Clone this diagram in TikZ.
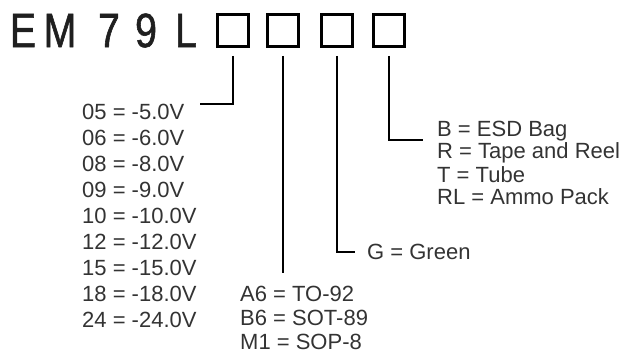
\documentclass[tikz,border=0pt]{standalone}
\usepackage{fontspec}
\setmainfont{Liberation Sans}
\newfontfamily\titlefont[FakeBold=1.4]{Liberation Sans}
\usetikzlibrary{positioning}
\definecolor{inkgray}{HTML}{333333}
\newcommand{\partchar}[1]{\scalebox{0.82}[1]{#1}}
\tikzset{
  partletter/.style={font=\titlefont\fontsize{48}{52}\selectfont, text=black!88, inner sep=0pt},
  partbox/.style={draw, line width=2.6pt, minimum width=31pt, minimum height=32pt, inner sep=0pt},
  lead/.style={line width=2.4pt, shorten <=8pt},
  opt/.style={font=\fontsize{22}{24}\selectfont, text=inkgray, inner sep=0pt, anchor=west},
}
\begin{document}
\begin{tikzpicture}[x=1pt,y=-1pt]
    \useasboundingbox (0,0) rectangle (638,362);
    % part number
    \node[partletter] (tE) at (23,30.5) {\partchar{E}};
    \node[partletter] (tM) at (60,30.5) {\partchar{M}};
    \node[partletter] (t7) at (109,30.5) {\partchar{7}};
    \node[partletter] (t9) at (146,30.5) {\partchar{9}};
    \node[partletter] (tL) at (186,30.5) {\partchar{L}};
    \node[partbox] (b1) at (233,30.5) {};
    \node[partbox] (b2) at (283,30.5) {};
    \node[partbox] (b3) at (337,30.5) {};
    \node[partbox] (b4) at (389,30.5) {};
    % voltage codes
    \foreach \code/\volt [count=\i from 0] in {05/-5.0,06/-6.0,08/-8.0,09/-9.0,10/-10.0,12/-12.0,15/-15.0,18/-18.0,24/-24.0}
      \node[opt] (v\code) at (82,112+26*\i) {\code\ = \volt V};
    % packages
    \node[opt] (pA6) at (240,294) {A6 = TO-92};
    \node[opt] (pB6) at (240,318) {B6 = SOT-89};
    \node[opt] (pM1) at (240,342) {M1 = SOP-8};
    % green
    \node[opt] (gG) at (367,252) {G = Green};
    % packing
    \node[opt] (kB) at (437,131) {B = ESD Bag};
    \node[opt] (kR) at (437,153) {R = Tape and Reel};
    \node[opt] (kT) at (437,175) {T = Tube};
    \node[opt] (kRL) at (437,197) {RL = Ammo Pack};
    % leads
    \coordinate (e1) at (200,104);
    \coordinate (e2) at (283,273);
    \coordinate (e3) at (355,252);
    \coordinate (e4) at (423,140);
    \draw[lead] (b1.south) |- (e1);
    \draw[lead] (b2.south) -- (e2);
    \draw[lead] (b3.south) |- (e3);
    \draw[lead] (b4.south) |- (e4);
\end{tikzpicture}
\end{document}
